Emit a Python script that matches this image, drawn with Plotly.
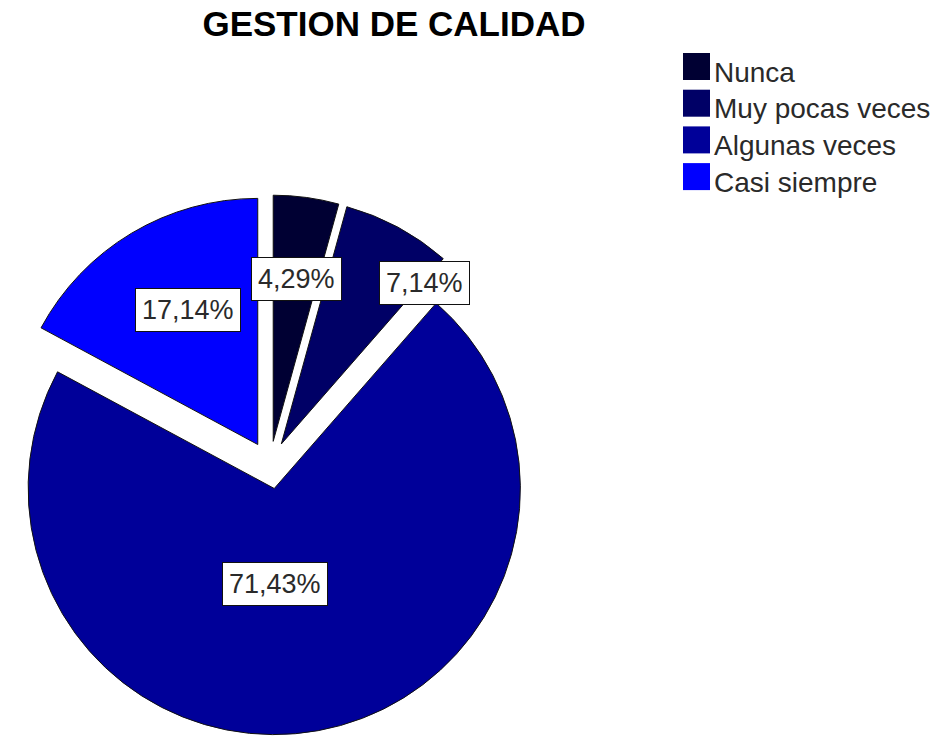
import math
import plotly.graph_objects as go

# Survey responses for "Gestión de calidad" (percent of respondents)
categories = ["Nunca", "Muy pocas veces", "Algunas veces", "Casi siempre"]
percentages = [4.29, 7.14, 71.43, 17.14]
colors = ["#000033", "#000066", "#000099", "#0000FF"]

W, H = 938, 740
FONT = "Liberation Sans, Arial, sans-serif"
PULL = 0.097

# Pie domain, in pixels of the page
dom_left, dom_right = 0, 540
dom_top, dom_bottom = 195, 735

# Where each percentage box sits inside its slice (fraction of radius, angular shift in degrees)
label_radius = [0.667, 0.877, 0.39, 0.617]
label_shift = [0.3, 13.3, 9.6, 3.4]

fig = go.Figure(
    go.Pie(
        labels=categories,
        values=percentages,
        sort=False,
        direction="clockwise",
        rotation=0,
        pull=[PULL] * len(categories),
        marker=dict(colors=colors, line=dict(color="#111111", width=1)),
        textinfo="none",
        hoverinfo="label+percent",
        showlegend=False,
        domain=dict(
            x=[dom_left / W, dom_right / W],
            y=[1 - dom_bottom / H, 1 - dom_top / H],
        ),
    )
)

# Geometry of the pie as plotly lays it out
r = min(dom_right - dom_left, dom_bottom - dom_top) / 2 / (1 + PULL)
cx = (dom_left + dom_right) / 2
cy = (dom_top + dom_bottom) / 2
total = sum(percentages)

annotations = []
start = 0.0
for v, f, shift in zip(percentages, label_radius, label_shift):
    span = 360.0 * v / total
    mid = math.radians(start + span / 2)
    ax = cx + PULL * r * math.sin(mid)
    ay = cy - PULL * r * math.cos(mid)
    a = mid + math.radians(shift)
    px = ax + f * r * math.sin(a)
    py = ay - f * r * math.cos(a)
    annotations.append(
        dict(
            x=px / W, y=1 - py / H, xref="paper", yref="paper",
            text=f"{v:.2f}".replace(".", ",") + "%",
            showarrow=False, xanchor="center", yanchor="middle",
            font=dict(family=FONT, size=27, color="#2a2a2a"),
            bgcolor="white", bordercolor="#111111", borderwidth=1, borderpad=6,
        )
    )
    start += span

# Legend: square swatches with category names
shapes = []
sw_left, sw_size, row0, pitch = 683, 27, 53, 36.7
for i, (cat, col) in enumerate(zip(categories, colors)):
    top = row0 + i * pitch
    shapes.append(
        dict(
            type="rect", xref="paper", yref="paper",
            x0=sw_left / W, x1=(sw_left + sw_size) / W,
            y0=1 - (top + sw_size) / H, y1=1 - top / H,
            fillcolor=col, line=dict(width=0),
        )
    )
    annotations.append(
        dict(
            x=(sw_left + sw_size + 2) / W, y=1 - (top + 19) / H,
            xref="paper", yref="paper", text=cat, showarrow=False,
            xanchor="left", yanchor="middle",
            font=dict(family=FONT, size=28, color="#2a2a2a"),
        )
    )

fig.update_layout(
    width=W, height=H,
    margin=dict(l=0, r=0, t=0, b=0),
    paper_bgcolor="white", plot_bgcolor="white",
    title=dict(
        text="<b>GESTION DE CALIDAD</b>",
        x=394 / W, y=1 - 24 / H, xanchor="center", yanchor="middle",
        xref="paper", yref="paper",
        font=dict(family=FONT, size=35, color="#000000"),
    ),
    annotations=annotations,
    shapes=shapes,
    showlegend=False,
)

fig.write_html("out.html")
